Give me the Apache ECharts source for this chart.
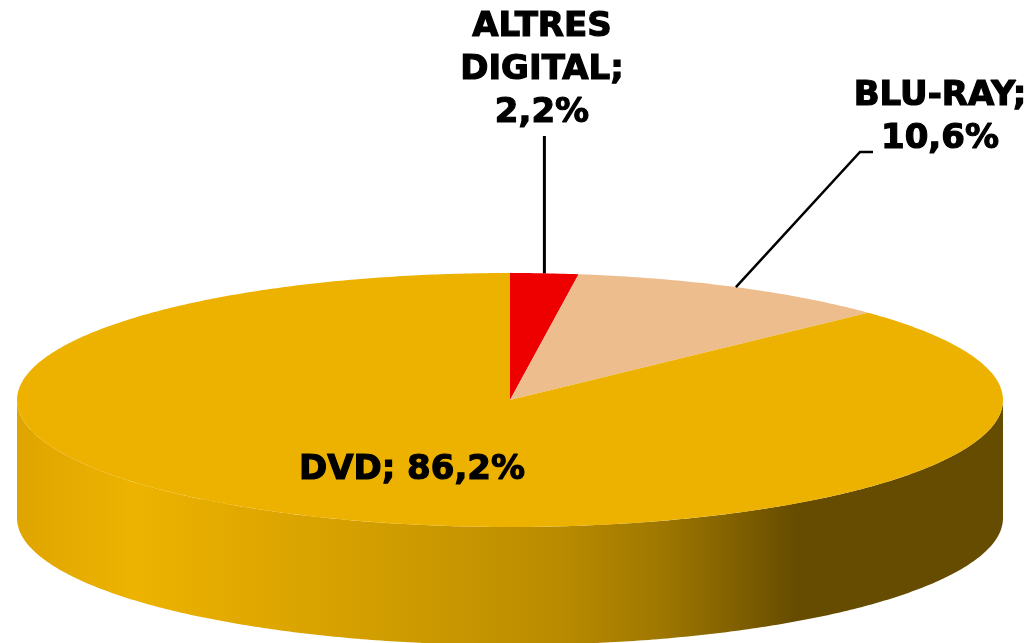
<!DOCTYPE html>
<html>
<head>
<meta charset="utf-8">
<script src="https://cdn.jsdelivr.net/npm/echarts@6/dist/echarts.min.js"></script>
<style>
  html, body { margin: 0; background: #fff; }
  #main { width: 1035px; height: 643px; }
</style>
</head>
<body>
<div id="main"></div>
<script>
// dades del gràfic
var categories = ['ALTRES DIGITAL', 'BLU-RAY', 'DVD'];
var shares = [2.2, 10.6, 86.2];

var colors = ['#ee0000', '#edbd8e', '#edb200'];
// posició de les etiquetes (centre del text) i colze de la línia guia
var labelLayout = [
  { x: 542, y: 70, lineTop: 136, multi: true },
  { x: 940, y: 118, elbow: [860, 152], end: [873, 152] },
  { x: 412, y: 470 }
];

var cx = 510, cy = 400, rx = 493, ry = 127, depth = 118;
var total = shares.reduce(function (a, b) { return a + b; }, 0);

function pt(t, dy) {
  return [cx + rx * Math.sin(t), cy - ry * Math.cos(t) + (dy || 0)];
}
function arc(a, b, dy) {
  var n = Math.max(2, Math.ceil((b - a) / 0.01));
  var out = [];
  for (var i = 0; i <= n; i++) out.push(pt(a + (b - a) * i / n, dy));
  return out;
}
function fmt(v) { return v.toFixed(1).replace('.', ','); }

var sideFill = {
  type: 'linear', global: true,
  x: cx - rx, y: 0, x2: cx + rx, y2: 0,
  colorStops: [
    { offset: 0, color: '#dfa500' },
    { offset: 0.12, color: '#edb300' },
    { offset: 0.24, color: '#e0a800' },
    { offset: 0.41, color: '#cc9a00' },
    { offset: 0.55, color: '#ba8b00' },
    { offset: 0.65, color: '#a07800' },
    { offset: 0.72, color: '#846300' },
    { offset: 0.79, color: '#664c00' },
    { offset: 1, color: '#664c00' }
  ]
};

var chart = echarts.init(document.getElementById('main'));

chart.setOption({
  animation: false,
  series: [{
    type: 'custom',
    coordinateSystem: 'none',
    data: shares,
    renderItem: function (params, api) {
      var i = params.dataIndex;
      var before = 0;
      for (var k = 0; k < i; k++) before += shares[k];
      var a = before / total * Math.PI * 2;
      var b = (before + shares[i]) / total * Math.PI * 2;
      var mid = (a + b) / 2;
      var children = [];

      // paret lateral (només la meitat frontal)
      var s = Math.max(a, Math.PI / 2), e = Math.min(b, Math.PI * 1.5);
      if (e > s) {
        var top = arc(s, e, 0);
        var bottom = arc(s, e, depth).reverse();
        children.push({
          type: 'polygon', z2: 1,
          shape: { points: top.concat(bottom) },
          style: { fill: i === 2 ? sideFill : colors[i] }
        });
      }

      // cara superior
      children.push({
        type: 'polygon', z2: 2,
        shape: { points: [[cx, cy]].concat(arc(a, b, 0)) },
        style: { fill: colors[i] }
      });

      // etiqueta
      var L = labelLayout[i];
      var txt = L.multi
        ? categories[i].split(' ').join('\n') + ';\n' + fmt(api.value(0)) + '%'
        : (L.elbow ? categories[i] + ';\n' + fmt(api.value(0)) + '%'
                   : categories[i] + '; ' + fmt(api.value(0)) + '%');
      children.push({
        type: 'text', z2: 10,
        style: {
          x: L.x, y: L.y, text: txt,
          fill: '#000',
          stroke: '#000', lineWidth: 1.2,
          font: 'bold 34px "DejaVu Sans", Verdana, sans-serif',
          lineHeight: 43,
          align: 'center', verticalAlign: 'middle'
        }
      });

      // línia guia
      var p = pt(mid, 0);
      if (L.lineTop) {
        children.push({
          type: 'polyline', z2: 5,
          shape: { points: [[p[0], L.lineTop], p] },
          style: { stroke: '#000', lineWidth: 3, fill: null }
        });
      } else if (L.elbow) {
        children.push({
          type: 'polyline', z2: 5,
          shape: { points: [p, L.elbow, L.end] },
          style: { stroke: '#000', lineWidth: 2.5, fill: null }
        });
      }

      return { type: 'group', children: children };
    }
  }]
});
</script>
</body>
</html>
